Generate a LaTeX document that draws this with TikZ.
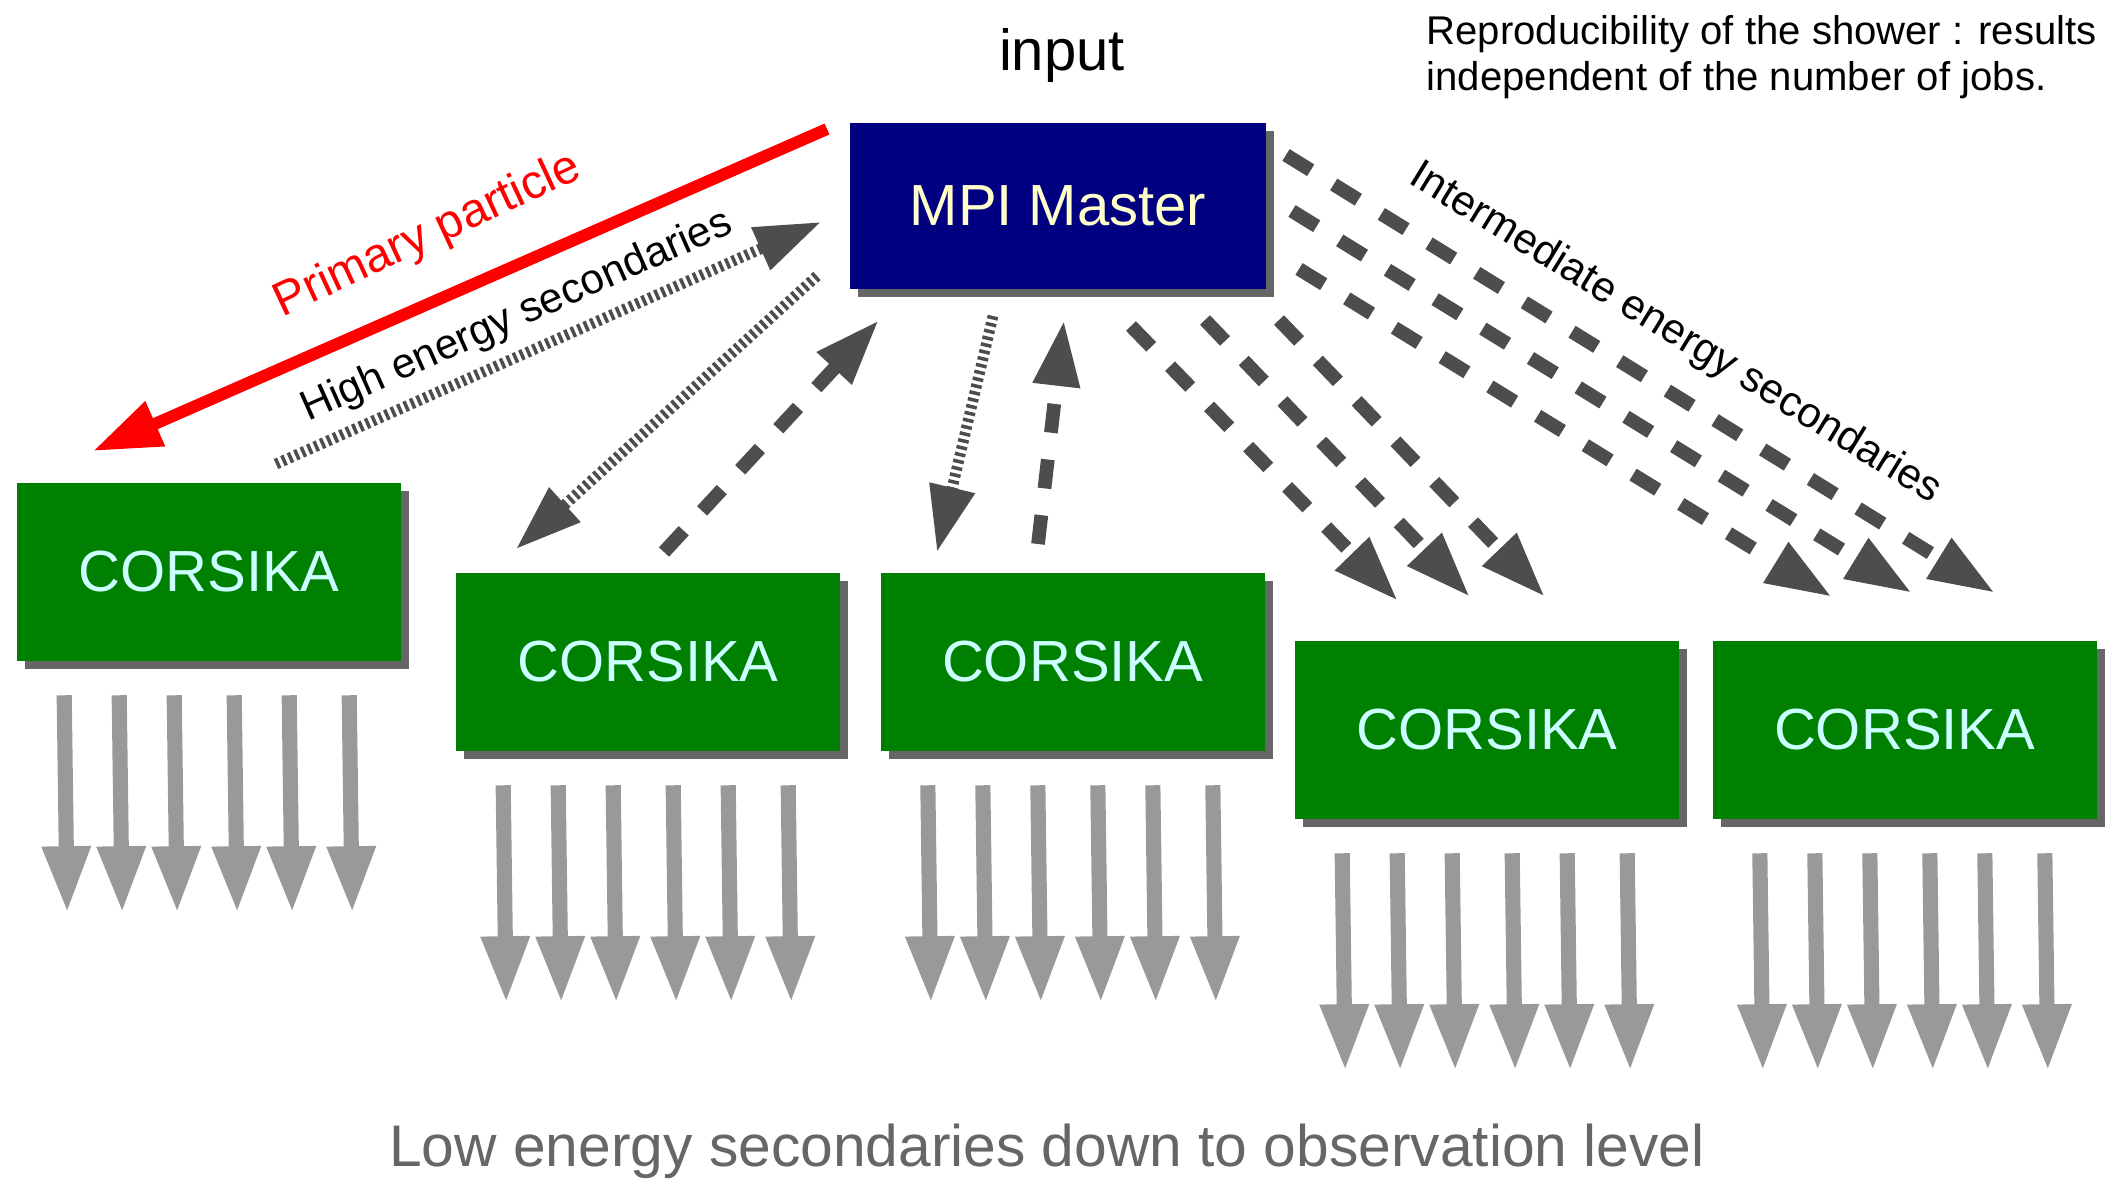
\documentclass[tikz,border=0pt]{standalone}
\usepackage{fontspec}
\setmainfont{Liberation Sans}
\usepackage{xcolor}
\usepackage{tikz}
\usetikzlibrary{positioning,arrows.meta,shadows}

\definecolor{mastercol}{HTML}{000080}
\definecolor{mastertext}{HTML}{FFFFCC}
\definecolor{corsikacol}{HTML}{008000}
\definecolor{corsikatext}{HTML}{CCFFFF}
\definecolor{shadowgray}{HTML}{666666}
\definecolor{arrowgray}{HTML}{4D4D4D}
\definecolor{lowgray}{HTML}{999999}

\begin{document}
\begin{tikzpicture}[x=0.01cm,y=-0.01cm,
	boxshadow/.style={drop shadow={shadow xshift=0.08cm,shadow yshift=-0.08cm,fill=shadowgray,opacity=1}},
	master/.style={fill=mastercol,text=mastertext,minimum width=4.16cm,minimum height=1.65cm,inner sep=0pt,font=\fontsize{16.5pt}{19pt}\selectfont,boxshadow},
	corsika/.style={fill=corsikacol,text=corsikatext,minimum width=3.84cm,minimum height=1.77cm,inner sep=0pt,font=\fontsize{16.5pt}{19pt}\selectfont,boxshadow},
	lowarrow/.style={draw=lowgray,line width=4.3pt,-{Triangle[length=0.67cm,width=0.45cm]}},
	dasharrow/.style={draw=arrowgray,line width=3.9pt,dash pattern=on 0.29cm off 0.27cm,-{Triangle[length=0.66cm,width=0.44cm]}},
	hatcharrow/.style={draw=arrowgray,line width=3.1pt,dash pattern=on 1pt off 1pt,-{Triangle[length=0.66cm,width=0.44cm]}},
	primaryarrow/.style={draw=red,line width=3.4pt,-{Triangle[length=0.68cm,width=0.46cm]}},
	label/.style={inner sep=0pt,font=\fontsize{12pt}{14pt}\selectfont}]
	
	\useasboundingbox (0,0) rectangle (2111,1178);
	
	% boxes
	\node[master] (mpi) at (1058,206) {MPI Master};
	\node[font=\fontsize{16.5pt}{19pt}\selectfont,inner sep=0pt] (input) at (1062,55) {input};
	
	\node[corsika] (c1) at (209,572) {CORSIKA};
	\node[corsika] (c2) at (648,662) {CORSIKA};
	\node[corsika,right=0.39cm of c2] (c3) {CORSIKA};
	\node[corsika] (c4) at (1487,730) {CORSIKA};
	\node[corsika,right=0.32cm of c4] (c5) {CORSIKA};
	
	\node[inner sep=0pt,anchor=west,align=left,font=\fontsize{11.4pt}{12.9pt}\selectfont] (note) at (1426,57) {Reproducibility of the shower : results\\independent of the number of jobs.};
	
	\node[inner sep=0pt,text=shadowgray,font=\fontsize{16.7pt}{19pt}\selectfont] (low) at (1047,1151) {Low energy secondaries down to observation level};
	
	% arrow ends
	\coordinate (pp-a) at (827,129);
	\coordinate (pp-b) at (93,451);
	\coordinate (he-a) at (276,464);
	\coordinate (he-b) at (821,222);
	\coordinate (d2-a) at (817,276);
	\coordinate (d2-b) at (516,549);
	\coordinate (u2-a) at (664,552);
	\coordinate (u2-b) at (879,320);
	\coordinate (d3-a) at (993,316);
	\coordinate (d3-b) at (937,552);
	\coordinate (u3-a) at (1038,544);
	\coordinate (u3-b) at (1064,320);
	\coordinate (i4a-a) at (1131,326);
	\coordinate (i4a-b) at (1398,601);
	\coordinate (i4b-a) at (1205,320);
	\coordinate (i4b-b) at (1470,597);
	\coordinate (i4c-a) at (1279,320);
	\coordinate (i4c-b) at (1545,597);
	\coordinate (i5a-a) at (1286,155);
	\coordinate (i5a-b) at (1995,593);
	\coordinate (i5b-a) at (1292,211);
	\coordinate (i5b-b) at (1912,593);
	\coordinate (i5c-a) at (1299,269);
	\coordinate (i5c-b) at (1832,597);
	
	\draw[primaryarrow] (pp-a) -- (pp-b);
	\draw[hatcharrow] (he-a) -- (he-b);
	\draw[hatcharrow] (d2-a) -- (d2-b);
	\draw[dasharrow] (u2-a) -- (u2-b);
	\draw[hatcharrow] (d3-a) -- (d3-b);
	\draw[dasharrow] (u3-a) -- (u3-b);
	\draw[dasharrow] (i4a-a) -- (i4a-b);
	\draw[dasharrow] (i4b-a) -- (i4b-b);
	\draw[dasharrow] (i4c-a) -- (i4c-b);
	\draw[dasharrow] (i5a-a) -- (i5a-b);
	\draw[dasharrow] (i5b-a) -- (i5b-b);
	\draw[dasharrow] (i5c-a) -- (i5c-b);
	
	\node[label,text=red,rotate=25,font=\fontsize{13.6pt}{15pt}\selectfont] (pp) at (428,236) {Primary particle};
	\node[label,rotate=24] (he) at (517,317) {High energy secondaries};
	\node[label,rotate=-31.5] (ie) at (1675,334) {Intermediate energy secondaries};
	
	% low energy showers
	\draw[lowarrow] ([shift={(48,34)}]c1.south west) -- ++(3,218);
	\draw[lowarrow] ([shift={(103,34)}]c1.south west) -- ++(3,218);
	\draw[lowarrow] ([shift={(158,34)}]c1.south west) -- ++(3,218);
	\draw[lowarrow] ([shift={(218,34)}]c1.south west) -- ++(3,218);
	\draw[lowarrow] ([shift={(273,34)}]c1.south west) -- ++(3,218);
	\draw[lowarrow] ([shift={(333,34)}]c1.south west) -- ++(3,218);
	
	\draw[lowarrow] ([shift={(48,34)}]c2.south west) -- ++(3,218);
	\draw[lowarrow] ([shift={(103,34)}]c2.south west) -- ++(3,218);
	\draw[lowarrow] ([shift={(158,34)}]c2.south west) -- ++(3,218);
	\draw[lowarrow] ([shift={(218,34)}]c2.south west) -- ++(3,218);
	\draw[lowarrow] ([shift={(273,34)}]c2.south west) -- ++(3,218);
	\draw[lowarrow] ([shift={(333,34)}]c2.south west) -- ++(3,218);
	
	\draw[lowarrow] ([shift={(48,34)}]c3.south west) -- ++(3,218);
	\draw[lowarrow] ([shift={(103,34)}]c3.south west) -- ++(3,218);
	\draw[lowarrow] ([shift={(158,34)}]c3.south west) -- ++(3,218);
	\draw[lowarrow] ([shift={(218,34)}]c3.south west) -- ++(3,218);
	\draw[lowarrow] ([shift={(273,34)}]c3.south west) -- ++(3,218);
	\draw[lowarrow] ([shift={(333,34)}]c3.south west) -- ++(3,218);
	
	\draw[lowarrow] ([shift={(48,34)}]c4.south west) -- ++(3,218);
	\draw[lowarrow] ([shift={(103,34)}]c4.south west) -- ++(3,218);
	\draw[lowarrow] ([shift={(158,34)}]c4.south west) -- ++(3,218);
	\draw[lowarrow] ([shift={(218,34)}]c4.south west) -- ++(3,218);
	\draw[lowarrow] ([shift={(273,34)}]c4.south west) -- ++(3,218);
	\draw[lowarrow] ([shift={(333,34)}]c4.south west) -- ++(3,218);
	
	\draw[lowarrow] ([shift={(48,34)}]c5.south west) -- ++(3,218);
	\draw[lowarrow] ([shift={(103,34)}]c5.south west) -- ++(3,218);
	\draw[lowarrow] ([shift={(158,34)}]c5.south west) -- ++(3,218);
	\draw[lowarrow] ([shift={(218,34)}]c5.south west) -- ++(3,218);
	\draw[lowarrow] ([shift={(273,34)}]c5.south west) -- ++(3,218);
	\draw[lowarrow] ([shift={(333,34)}]c5.south west) -- ++(3,218);
\end{tikzpicture}
\end{document}
